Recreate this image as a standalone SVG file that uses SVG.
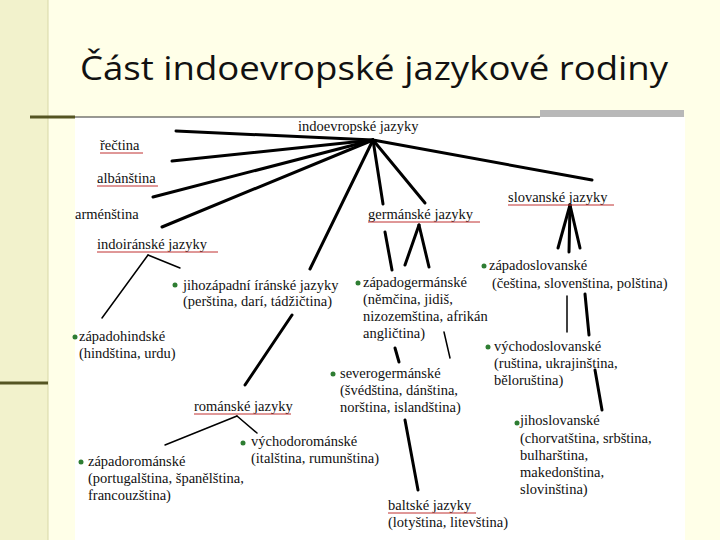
<svg xmlns="http://www.w3.org/2000/svg" width="720" height="540" viewBox="0 0 720 540">
<style>
.k line{stroke:#000;stroke-width:3;stroke-linecap:round}
.k line.n{stroke-width:1.5}
.u{stroke:#c03030;stroke-width:1}
.b{fill:#2e7d32}
</style>
<rect width="720" height="540" fill="#ffffe8"/>
<rect width="48" height="540" fill="#f2f2cc"/>
<line x1="48" y1="0" x2="48" y2="540" stroke="#d8d8a8" stroke-width="1"/>
<line x1="30" y1="117" x2="75" y2="117" stroke="#555522" stroke-width="3"/>
<line x1="0" y1="383" x2="48" y2="383" stroke="#555522" stroke-width="3"/>
<rect x="540" y="110" width="144" height="7" fill="#b8b8b8"/>
<rect x="75" y="117" width="610" height="423" fill="#fff"/>
<line x1="75" y1="117" x2="540" y2="117" stroke="#333" stroke-width="1"/>
<text font-family="Open Sans, Noto Sans, sans-serif" font-size="32" fill="#111" x="80" y="80" textLength="588" lengthAdjust="spacingAndGlyphs">Část indoevropské jazykové rodiny</text>
<g class="k" id="connectors">
<line x1="373" y1="140" x2="176" y2="131"/>
<line x1="373" y1="140" x2="172" y2="161"/>
<line x1="373" y1="140" x2="153" y2="197"/>
<line x1="373" y1="140" x2="162" y2="227"/>
<line x1="373" y1="140" x2="310" y2="269"/>
<line x1="373" y1="140" x2="383" y2="204"/>
<line x1="373" y1="140" x2="425" y2="203"/>
<line x1="373" y1="140" x2="592" y2="180"/>
<line x1="570" y1="205" x2="558" y2="248"/>
<line x1="570" y1="205" x2="569" y2="252"/>
<line x1="570" y1="205" x2="580" y2="248"/>
<line x1="385" y1="232" x2="392" y2="270"/>
<line x1="419" y1="225" x2="405" y2="265"/>
<line x1="419" y1="225" x2="429" y2="267"/>
<line class="n" x1="567" y1="296" x2="567" y2="332"/>
<line x1="585" y1="294" x2="589" y2="335"/>
<line x1="595" y1="370" x2="602" y2="410"/>
<line x1="395" y1="348" x2="399" y2="362"/>
<line class="n" x1="444" y1="332" x2="450" y2="358"/>
<line x1="405" y1="420" x2="418" y2="490"/>
<line class="n" x1="148" y1="255" x2="180" y2="268"/>
<line class="n" x1="148" y1="255" x2="102" y2="318"/>
<line x1="292" y1="315" x2="245" y2="385"/>
<line class="n" x1="237" y1="416" x2="165" y2="445"/>
<line class="n" x1="237" y1="416" x2="257" y2="433"/>
</g>
<g font-family="Liberation Serif, DejaVu Serif, serif" font-size="14.5" fill="#111">
<g id="indoevropske"><text x="298" y="131">indoevropské jazyky</text></g>
<g id="rectina"><text x="100" y="150">řečtina</text><line class="u" x1="100" y1="153" x2="143" y2="153"/></g>
<g id="albanstina"><text x="97" y="183">albánština</text><line class="u" x1="97" y1="186" x2="158" y2="186"/></g>
<g id="armenstina"><text x="75" y="219">arménština</text></g>
<g id="indoiranske"><text x="97" y="249">indoiránské jazyky</text><line class="u" x1="97" y1="252" x2="218" y2="252"/></g>
<g id="jihozapadni"><circle class="b" cx="175" cy="285" r="2.5"/><text x="183" y="290">jihozápadní íránské jazyky</text><text x="183" y="306">(perština, darí, tádžičtina)</text></g>
<g id="zapadogermanske"><circle class="b" cx="358" cy="283" r="2.5"/><text x="363" y="287">západogermánské</text><text x="363" y="304">(němčina, jidiš,</text><text x="363" y="321">nizozemština, afrikán</text><text x="363" y="338">angličtina)</text></g>
<g id="germanske"><text x="368" y="219">germánské jazyky</text><line class="u" x1="368" y1="222" x2="480" y2="222"/></g>
<g id="slovanske"><text x="508" y="202">slovanské jazyky</text><line class="u" x1="508" y1="205" x2="614" y2="205"/></g>
<g id="zapadoslovanske"><circle class="b" cx="484" cy="266" r="2.5"/><text x="489" y="270">západoslovanské</text><text x="492" y="288">(čeština, slovenština, polština)</text></g>
<g id="zapadohindske"><circle class="b" cx="75" cy="337" r="2.5"/><text x="79" y="341">západohindské</text><text x="79" y="358">(hindština, urdu)</text></g>
<g id="vychodoslovanske"><circle class="b" cx="488" cy="347" r="2.5"/><text x="494" y="351">východoslovanské</text><text x="494" y="368">(ruština, ukrajinština,</text><text x="494" y="385">běloruština)</text></g>
<g id="severogermanske"><circle class="b" cx="333" cy="374" r="2.5"/><text x="340" y="378">severogermánské</text><text x="340" y="395">(švédština, dánština,</text><text x="340" y="412">norština, islandština)</text></g>
<g id="romanske"><text x="194" y="411">románské jazyky</text><line class="u" x1="194" y1="414" x2="291" y2="414"/></g>
<g id="vychodoromanske"><circle class="b" cx="243" cy="443" r="2.5"/><text x="251" y="446">východorománské</text><text x="251" y="463">(italština, rumunština)</text></g>
<g id="jihoslovanske"><circle class="b" cx="517" cy="423" r="2.5"/><text x="520" y="425">jihoslovanské</text><text x="520" y="443">(chorvatština, srbština,</text><text x="520" y="460">bulharština,</text><text x="520" y="477">makedonština,</text><text x="520" y="494">slovinština)</text></g>
<g id="zapadoromanske"><circle class="b" cx="81" cy="462" r="2.5"/><text x="88" y="466">západorománské</text><text x="88" y="483">(portugalština, španělština,</text><text x="88" y="500">francouzština)</text></g>
<g id="baltske"><text x="388" y="510">baltské jazyky</text><line class="u" x1="388" y1="513" x2="476" y2="513"/><text x="388" y="527">(lotyština, litevština)</text></g>
</g>
</svg>
